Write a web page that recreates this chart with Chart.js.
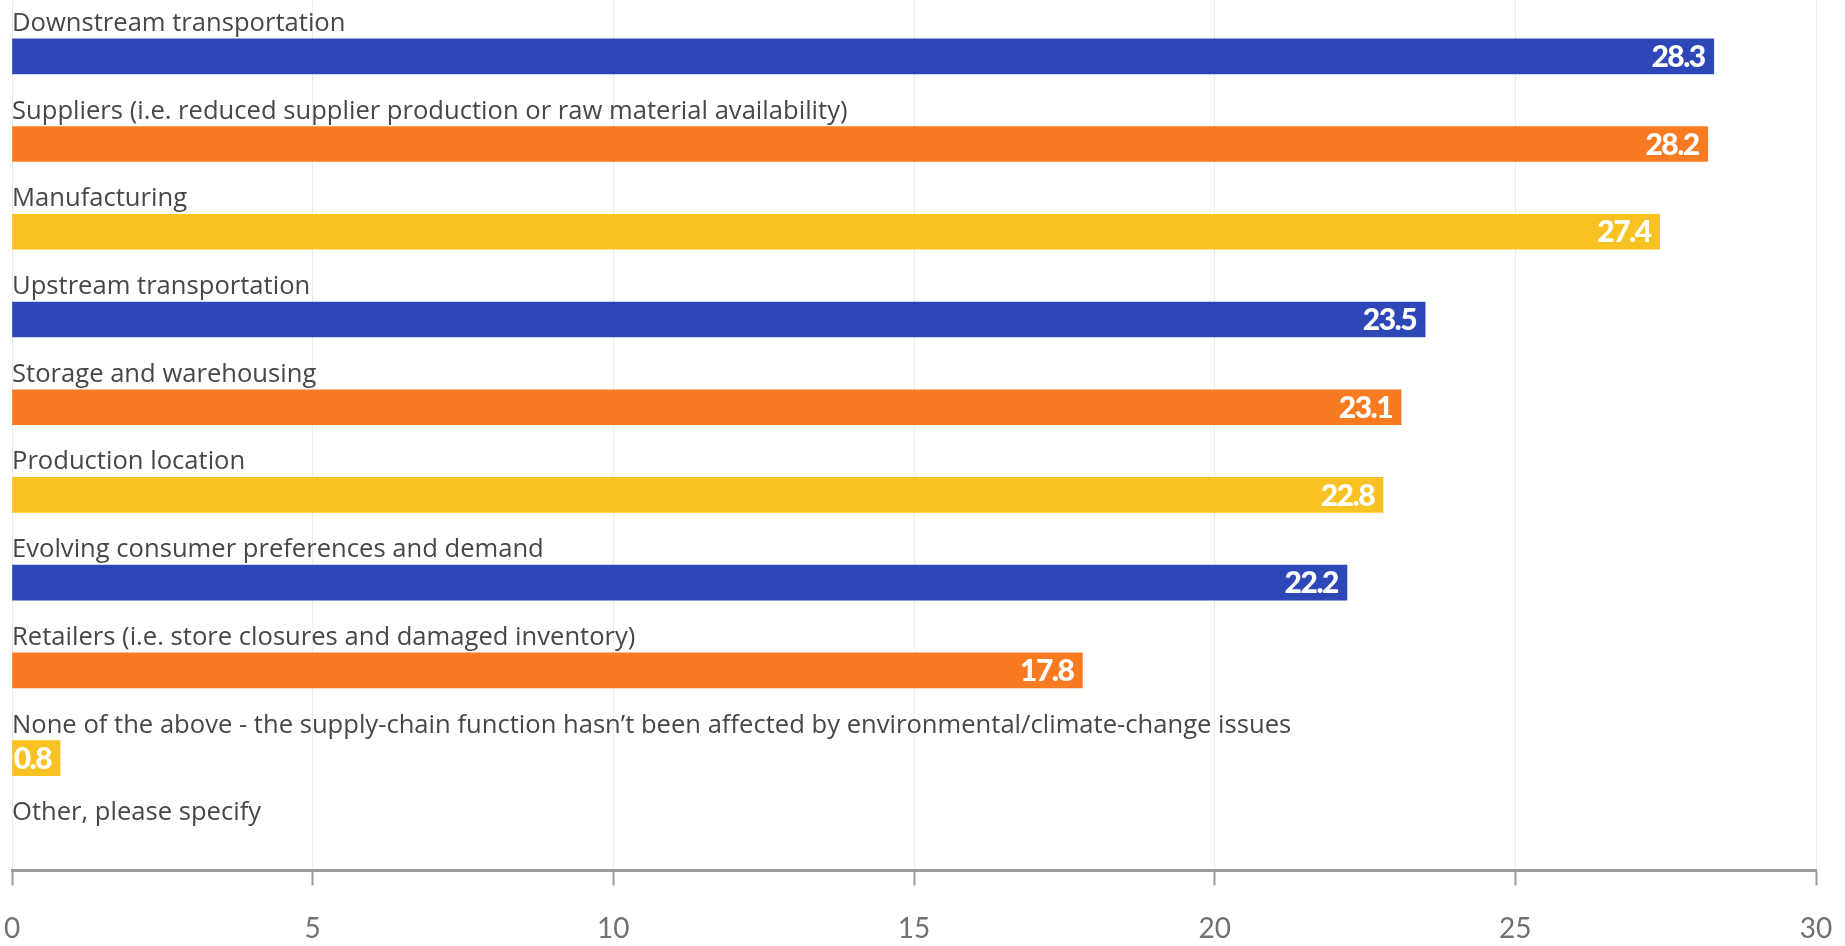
<!DOCTYPE html>
<html>
<head>
<meta charset="utf-8">
<script src="https://cdn.jsdelivr.net/npm/chart.js@4"></script>
<style>
  html, body { margin: 0; padding: 0; background: #fff; }
  #wrap { width: 1845px; height: 946px; }
</style>
</head>
<body>
<div id="wrap"><canvas id="chart"></canvas></div>
<script>
/* ---- Data ---- */
const categories = [
  "Downstream transportation",
  "Suppliers (i.e. reduced supplier production or raw material availability)",
  "Manufacturing",
  "Upstream transportation",
  "Storage and warehousing",
  "Production location",
  "Evolving consumer preferences and demand",
  "Retailers (i.e. store closures and damaged inventory)",
  "None of the above - the supply-chain function hasn\u2019t been affected by environmental/climate-change issues",
  "Other, please specify"
];
const shares = [28.3, 28.2, 27.4, 23.5, 23.1, 22.8, 22.2, 17.8, 0.8, null];
const barColors = ["#2d47b7", "#f97b21", "#f8c322"];
const xTicks = [0, 5, 10, 15, 20, 25, 30];

/* ---- Labels drawn above and inside the bars ---- */
const barLabels = {
  id: "barLabels",
  afterDatasetsDraw(chart) {
    const ctx = chart.ctx;
    const meta = chart.getDatasetMeta(0);
    const yScale = chart.scales.y;
    const left = chart.chartArea.left;
    const half = 17.5;
    ctx.save();
    categories.forEach((name, i) => {
      const yc = yScale.getPixelForValue(i);
      // category name
      ctx.font = "25.6px 'Open Sans'";
      ctx.fillStyle = "#474747";
      ctx.textAlign = "left";
      ctx.textBaseline = "alphabetic";
      ctx.letterSpacing = "0px";
      ctx.fillText(name, left, yc - half - 8);
      // value
      const bar = meta.data[i];
      if (shares[i] != null && bar) {
        ctx.font = "900 30px Lato";
        ctx.fillStyle = "#ffffff";
        ctx.textAlign = "right";
        ctx.textBaseline = "middle";
        ctx.letterSpacing = "-1.5px";
        ctx.fillText(shares[i].toFixed(1), bar.x - 9, yc + 1);
      }
    });
    ctx.restore();
  }
};

/* ---- Chart ---- */
new Chart(document.getElementById("chart"), {
  type: "bar",
  data: {
    datasets: [{
      data: categories.map((c, i) => ({ x: shares[i], y: i })),
      backgroundColor: categories.map((c, i) => barColors[i % 3]),
      borderWidth: 0,
      barThickness: 35
    }]
  },
  options: {
    indexAxis: "y",
    responsive: true,
    maintainAspectRatio: false,
    animation: false,
    layout: { padding: { left: 12, right: 29, top: 0, bottom: -27 } },
    plugins: {
      legend: { display: false },
      tooltip: { enabled: false }
    },
    scales: {
      y: {
        type: "linear",
        reverse: true,
        offset: false,
        min: -0.642,
        max: 9.28,
        display: false
      },
      x: {
        min: 0,
        max: 30,
        afterBuildTicks(scale) {
          scale.ticks = xTicks.map(v => ({ value: v }));
        },
        afterFit(scale) {
          scale.paddingLeft = 0;
          scale.paddingRight = 0;
        },
        grid: {
          color: "#ececec",
          lineWidth: 1,
          tickColor: "#9a9a9a",
          tickWidth: 2,
          tickLength: 15
        },
        border: { color: "#9a9a9a", width: 3 },
        ticks: {
          color: "#717171",
          font: { family: "Lato", size: 28 },
          padding: 27
        }
      }
    }
  },
  plugins: [barLabels]
});
</script>
</body>
</html>
